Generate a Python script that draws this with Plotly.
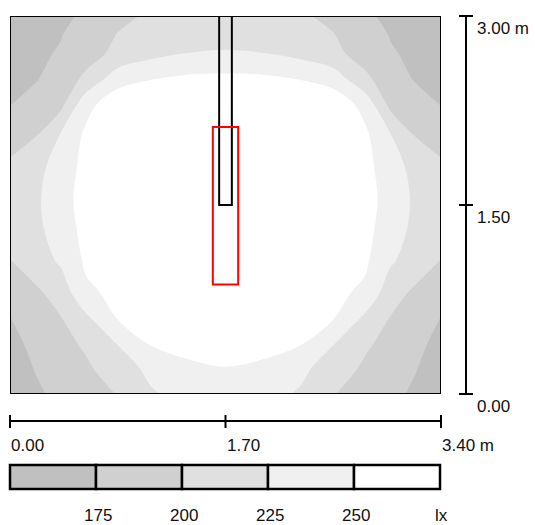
import plotly.graph_objects as go

# Room plan: 3.40 m x 3.00 m, illuminance in lux on the working plane
room_w = 3.40
room_d = 3.00

x_m = [0.0, 0.2, 0.4, 0.6, 0.85, 1.1, 1.4, 1.7, 2.0, 2.3, 2.55, 2.8, 3.0, 3.2, 3.4]
y_m = [0.0, 0.2, 0.4, 0.6, 0.8, 1.05, 1.3, 1.55, 1.8, 2.05, 2.3, 2.5, 2.7, 2.85, 3.0]

lux = [
    [158, 171, 181, 189, 201, 222, 233, 240, 233, 222, 201, 189, 181, 171, 158],
    [163, 176, 186, 196, 213, 230, 245, 249, 245, 230, 213, 196, 186, 176, 163],
    [168, 181, 192, 204, 226, 251, 258, 262, 258, 251, 226, 204, 192, 181, 168],
    [174, 187, 199, 220, 251, 260, 268, 272, 268, 260, 251, 220, 199, 187, 174],
    [186, 195, 210, 245, 256, 266, 275, 280, 275, 266, 256, 245, 210, 195, 186],
    [199, 213, 228, 254, 263, 273, 282, 287, 282, 273, 263, 254, 228, 213, 199],
    [212, 218, 238, 257, 266, 277, 285, 290, 285, 277, 266, 257, 238, 218, 212],
    [214, 220, 242, 258, 268, 278, 286, 290, 286, 278, 268, 258, 242, 220, 214],
    [204, 217, 236, 258, 268, 276, 283, 287, 283, 276, 268, 258, 236, 217, 204],
    [191, 199, 227, 255, 268, 276, 280, 283, 280, 276, 268, 255, 227, 199, 191],
    [174, 186, 193, 242, 266, 271, 274, 276, 274, 271, 266, 242, 193, 186, 174],
    [170, 173, 187, 205, 240, 249, 255, 256, 255, 249, 240, 205, 187, 173, 170],
    [166, 171, 177, 191, 206, 218, 226, 228, 226, 218, 206, 191, 177, 171, 166],
    [163, 169, 174, 186, 201, 205, 211, 214, 211, 205, 201, 186, 174, 169, 163],
    [160, 166, 171, 178, 194, 203, 205, 206, 205, 203, 194, 178, 171, 166, 160],
]

levels = [175, 200, 225, 250]
band_colors = ["#c0c0c0", "#d0d0d0", "#e0e0e0", "#f0f0f0", "#ffffff"]
unit_label = "lx"

x_ticks = [0.0, 1.70, 3.40]
x_tick_labels = ["0.00", "1.70", "3.40 m"]
y_ticks = [0.0, 1.50, 3.00]
y_tick_labels = ["0.00", "1.50", "3.00 m"]

# Luminaire outline and calculation area (metres)
luminaire = dict(x0=1.65, x1=1.75, y0=1.50, y1=3.00)
calc_area = dict(x0=1.60, x1=1.80, y0=0.87, y1=2.12)

W, H = 535, 525
ML, MT, MR, MB = 10, 16, 94, 131
PW = W - ML - MR
PH = H - MT - MB


def px_x(px):
    return (px - ML) / PW


def px_y(py):
    return (H - MB - py) / PH


font = dict(family="Liberation Sans, Arial, sans-serif", size=17, color="#111111")

step = levels[1] - levels[0]
fig = go.Figure(
    go.Contour(
        x=x_m,
        y=y_m,
        z=lux,
        contours=dict(start=levels[0], end=levels[-1], size=step,
                      coloring="fill", showlines=False),
        colorscale=[[i / (len(band_colors) - 1), c] for i, c in enumerate(band_colors)],
        line=dict(width=0, smoothing=1.0),
        showscale=False,
        hoverinfo="skip",
    )
)

shapes = []
# room outline
shapes.append(dict(type="rect", xref="x", yref="y", x0=0, x1=room_w, y0=0, y1=room_d,
                   line=dict(color="#000000", width=2), layer="above"))
# luminaire
shapes.append(dict(type="rect", xref="x", yref="y", **luminaire,
                   line=dict(color="#000000", width=2), layer="above"))
# calculation area
shapes.append(dict(type="rect", xref="x", yref="y", **calc_area,
                   line=dict(color="#ff0000", width=2), layer="above"))

# vertical scale bar on the right
bar_x = px_x(466)
shapes.append(dict(type="line", xref="paper", yref="paper", x0=bar_x, x1=bar_x,
                   y0=y_ticks[0] / room_d, y1=y_ticks[-1] / room_d,
                   line=dict(color="#000000", width=2)))
for v in y_ticks:
    shapes.append(dict(type="line", xref="paper", yref="paper",
                       x0=px_x(459), x1=px_x(473), y0=v / room_d, y1=v / room_d,
                       line=dict(color="#000000", width=2)))

# horizontal scale bar below
bar_y = px_y(421)
shapes.append(dict(type="line", xref="paper", yref="paper",
                   x0=x_ticks[0] / room_w, x1=x_ticks[-1] / room_w, y0=bar_y, y1=bar_y,
                   line=dict(color="#000000", width=2)))
for v in x_ticks:
    shapes.append(dict(type="line", xref="paper", yref="paper",
                       x0=v / room_w, x1=v / room_w, y0=px_y(415), y1=px_y(428),
                       line=dict(color="#000000", width=2)))

# colour key
key_x0, key_x1 = px_x(10), px_x(440)
key_y0, key_y1 = px_y(489), px_y(465)
n_bands = len(band_colors)
key_edges = [key_x0 + (key_x1 - key_x0) * i / n_bands for i in range(n_bands + 1)]
for i, c in enumerate(band_colors):
    shapes.append(dict(type="rect", xref="paper", yref="paper",
                       x0=key_edges[i], x1=key_edges[i + 1], y0=key_y0, y1=key_y1,
                       fillcolor=c, line=dict(color="#000000", width=2.5)))

annotations = []
for v, t in zip(y_ticks, y_tick_labels):
    annotations.append(dict(xref="paper", yref="paper", x=px_x(477), y=v / room_d,
                            yshift=-12, text=t, showarrow=False, xanchor="left",
                            yanchor="middle", font=font, borderpad=0, borderwidth=0))
for v, t in zip(x_ticks, x_tick_labels):
    annotations.append(dict(xref="paper", yref="paper", x=v / room_w, xshift=1,
                            y=px_y(445), text=t, showarrow=False, xanchor="left",
                            yanchor="middle", font=font, borderpad=0, borderwidth=0))
key_labels = [str(v) for v in levels] + [unit_label]
for edge, t in zip(key_edges[1:], key_labels):
    annotations.append(dict(xref="paper", yref="paper", x=edge, xshift=1.5,
                            y=px_y(515), text=t, showarrow=False, xanchor="center",
                            yanchor="middle", font=font, borderpad=0, borderwidth=0))

fig.update_layout(
    width=W,
    height=H,
    margin=dict(l=ML, r=MR, t=MT, b=MB, pad=0),
    paper_bgcolor="#ffffff",
    plot_bgcolor="#ffffff",
    xaxis=dict(range=[0, room_w], visible=False, fixedrange=True),
    yaxis=dict(range=[0, room_d], visible=False, fixedrange=True),
    shapes=shapes,
    annotations=annotations,
    showlegend=False,
)

fig.write_html("out.html")
